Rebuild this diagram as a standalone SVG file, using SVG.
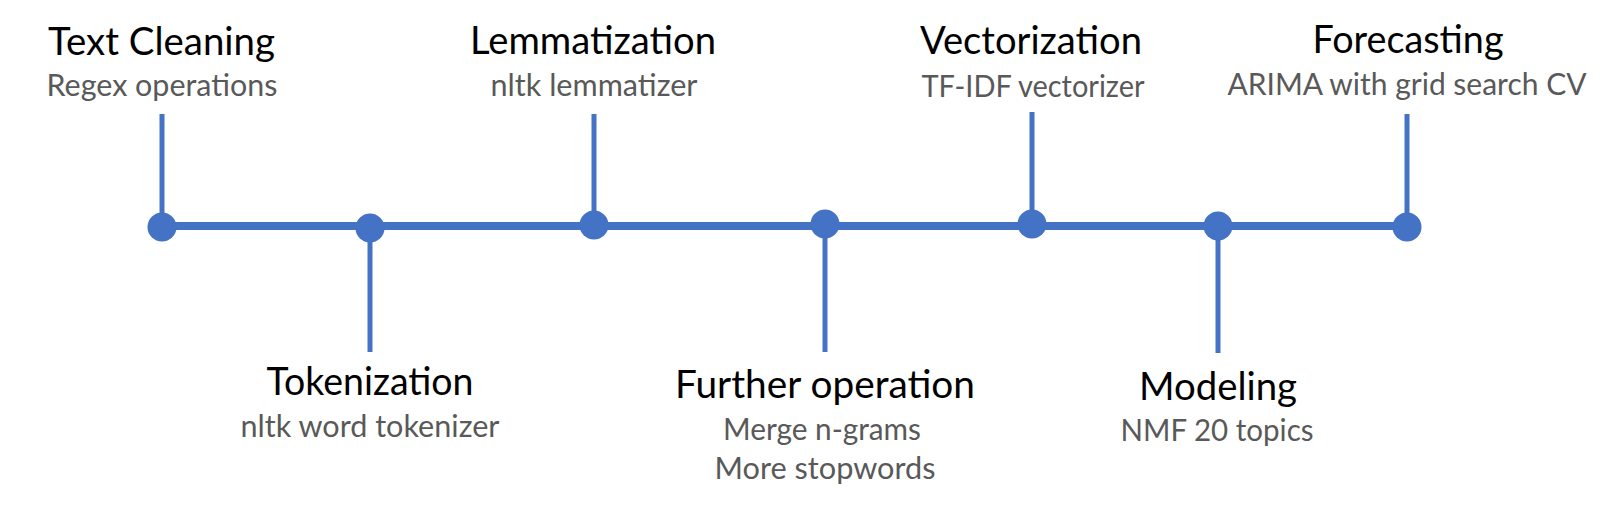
<svg xmlns="http://www.w3.org/2000/svg" width="1609" height="510" viewBox="0 0 1609 510">
<style>
.t{font-family:Lato,"Open Sans","Liberation Sans",sans-serif;font-size:38px;fill:#000;text-anchor:middle}
.s{font-family:Lato,"Open Sans","Liberation Sans",sans-serif;font-size:30px;fill:#595959;text-anchor:middle}
.stem{stroke:#4472C4;stroke-width:5;fill:none}
.axis{stroke:#4472C4;stroke-width:8;fill:none}
.dot{fill:#4472C4}
</style>
<rect width="1609" height="510" fill="#fff"/>
<g id="connectors">
<line class="axis" x1="161" y1="226" x2="1407" y2="226"/>
<line class="stem" x1="162" y1="114" x2="162" y2="226"/>
<line class="stem" x1="370" y1="226" x2="370" y2="352"/>
<line class="stem" x1="594" y1="114" x2="594" y2="226"/>
<line class="stem" x1="825" y1="226" x2="825" y2="352"/>
<line class="stem" x1="1032" y1="112" x2="1032" y2="226"/>
<line class="stem" x1="1218" y1="226" x2="1218" y2="353"/>
<line class="stem" x1="1407" y1="114" x2="1407" y2="226"/>
</g>
<g id="text-cleaning">
<circle class="dot" cx="162" cy="227" r="14.5"/>
<text class="t" x="161.5" y="55" textLength="227" lengthAdjust="spacingAndGlyphs">Text Cleaning</text>
<text class="s" x="162" y="96" textLength="231" lengthAdjust="spacingAndGlyphs">Regex operations</text>
</g>
<g id="tokenization">
<circle class="dot" cx="370" cy="228" r="14.5"/>
<text class="t" x="370" y="395" textLength="207" lengthAdjust="spacingAndGlyphs">Tokenization</text>
<text class="s" x="370" y="437" textLength="259" lengthAdjust="spacingAndGlyphs">nltk word tokenizer</text>
</g>
<g id="lemmatization">
<circle class="dot" cx="594" cy="225" r="14.5"/>
<text class="t" x="593" y="54" textLength="246" lengthAdjust="spacingAndGlyphs">Lemmatization</text>
<text class="s" x="594" y="96" textLength="207" lengthAdjust="spacingAndGlyphs">nltk lemmatizer</text>
</g>
<g id="further-operation">
<circle class="dot" cx="825" cy="224" r="14.5"/>
<text class="t" x="825" y="398" textLength="300" lengthAdjust="spacingAndGlyphs">Further operation</text>
<text class="s" x="822" y="440" textLength="198" lengthAdjust="spacingAndGlyphs">Merge n-grams</text>
<text class="s" x="825" y="479" textLength="221" lengthAdjust="spacingAndGlyphs">More stopwords</text>
</g>
<g id="vectorization">
<circle class="dot" cx="1032" cy="224" r="14.5"/>
<text class="t" x="1031" y="54" textLength="222" lengthAdjust="spacingAndGlyphs">Vectorization</text>
<text class="s" x="1033" y="97" textLength="223" lengthAdjust="spacingAndGlyphs">TF-IDF vectorizer</text>
</g>
<g id="modeling">
<circle class="dot" cx="1218" cy="226" r="14.5"/>
<text class="t" x="1218" y="400" textLength="158" lengthAdjust="spacingAndGlyphs">Modeling</text>
<text class="s" x="1217" y="441" textLength="193" lengthAdjust="spacingAndGlyphs">NMF 20 topics</text>
</g>
<g id="forecasting">
<circle class="dot" cx="1407" cy="227" r="14.5"/>
<text class="t" x="1408" y="53" textLength="191" lengthAdjust="spacingAndGlyphs">Forecasting</text>
<text class="s" x="1407" y="95" textLength="359" lengthAdjust="spacingAndGlyphs">ARIMA with grid search CV</text>
</g>
</svg>
